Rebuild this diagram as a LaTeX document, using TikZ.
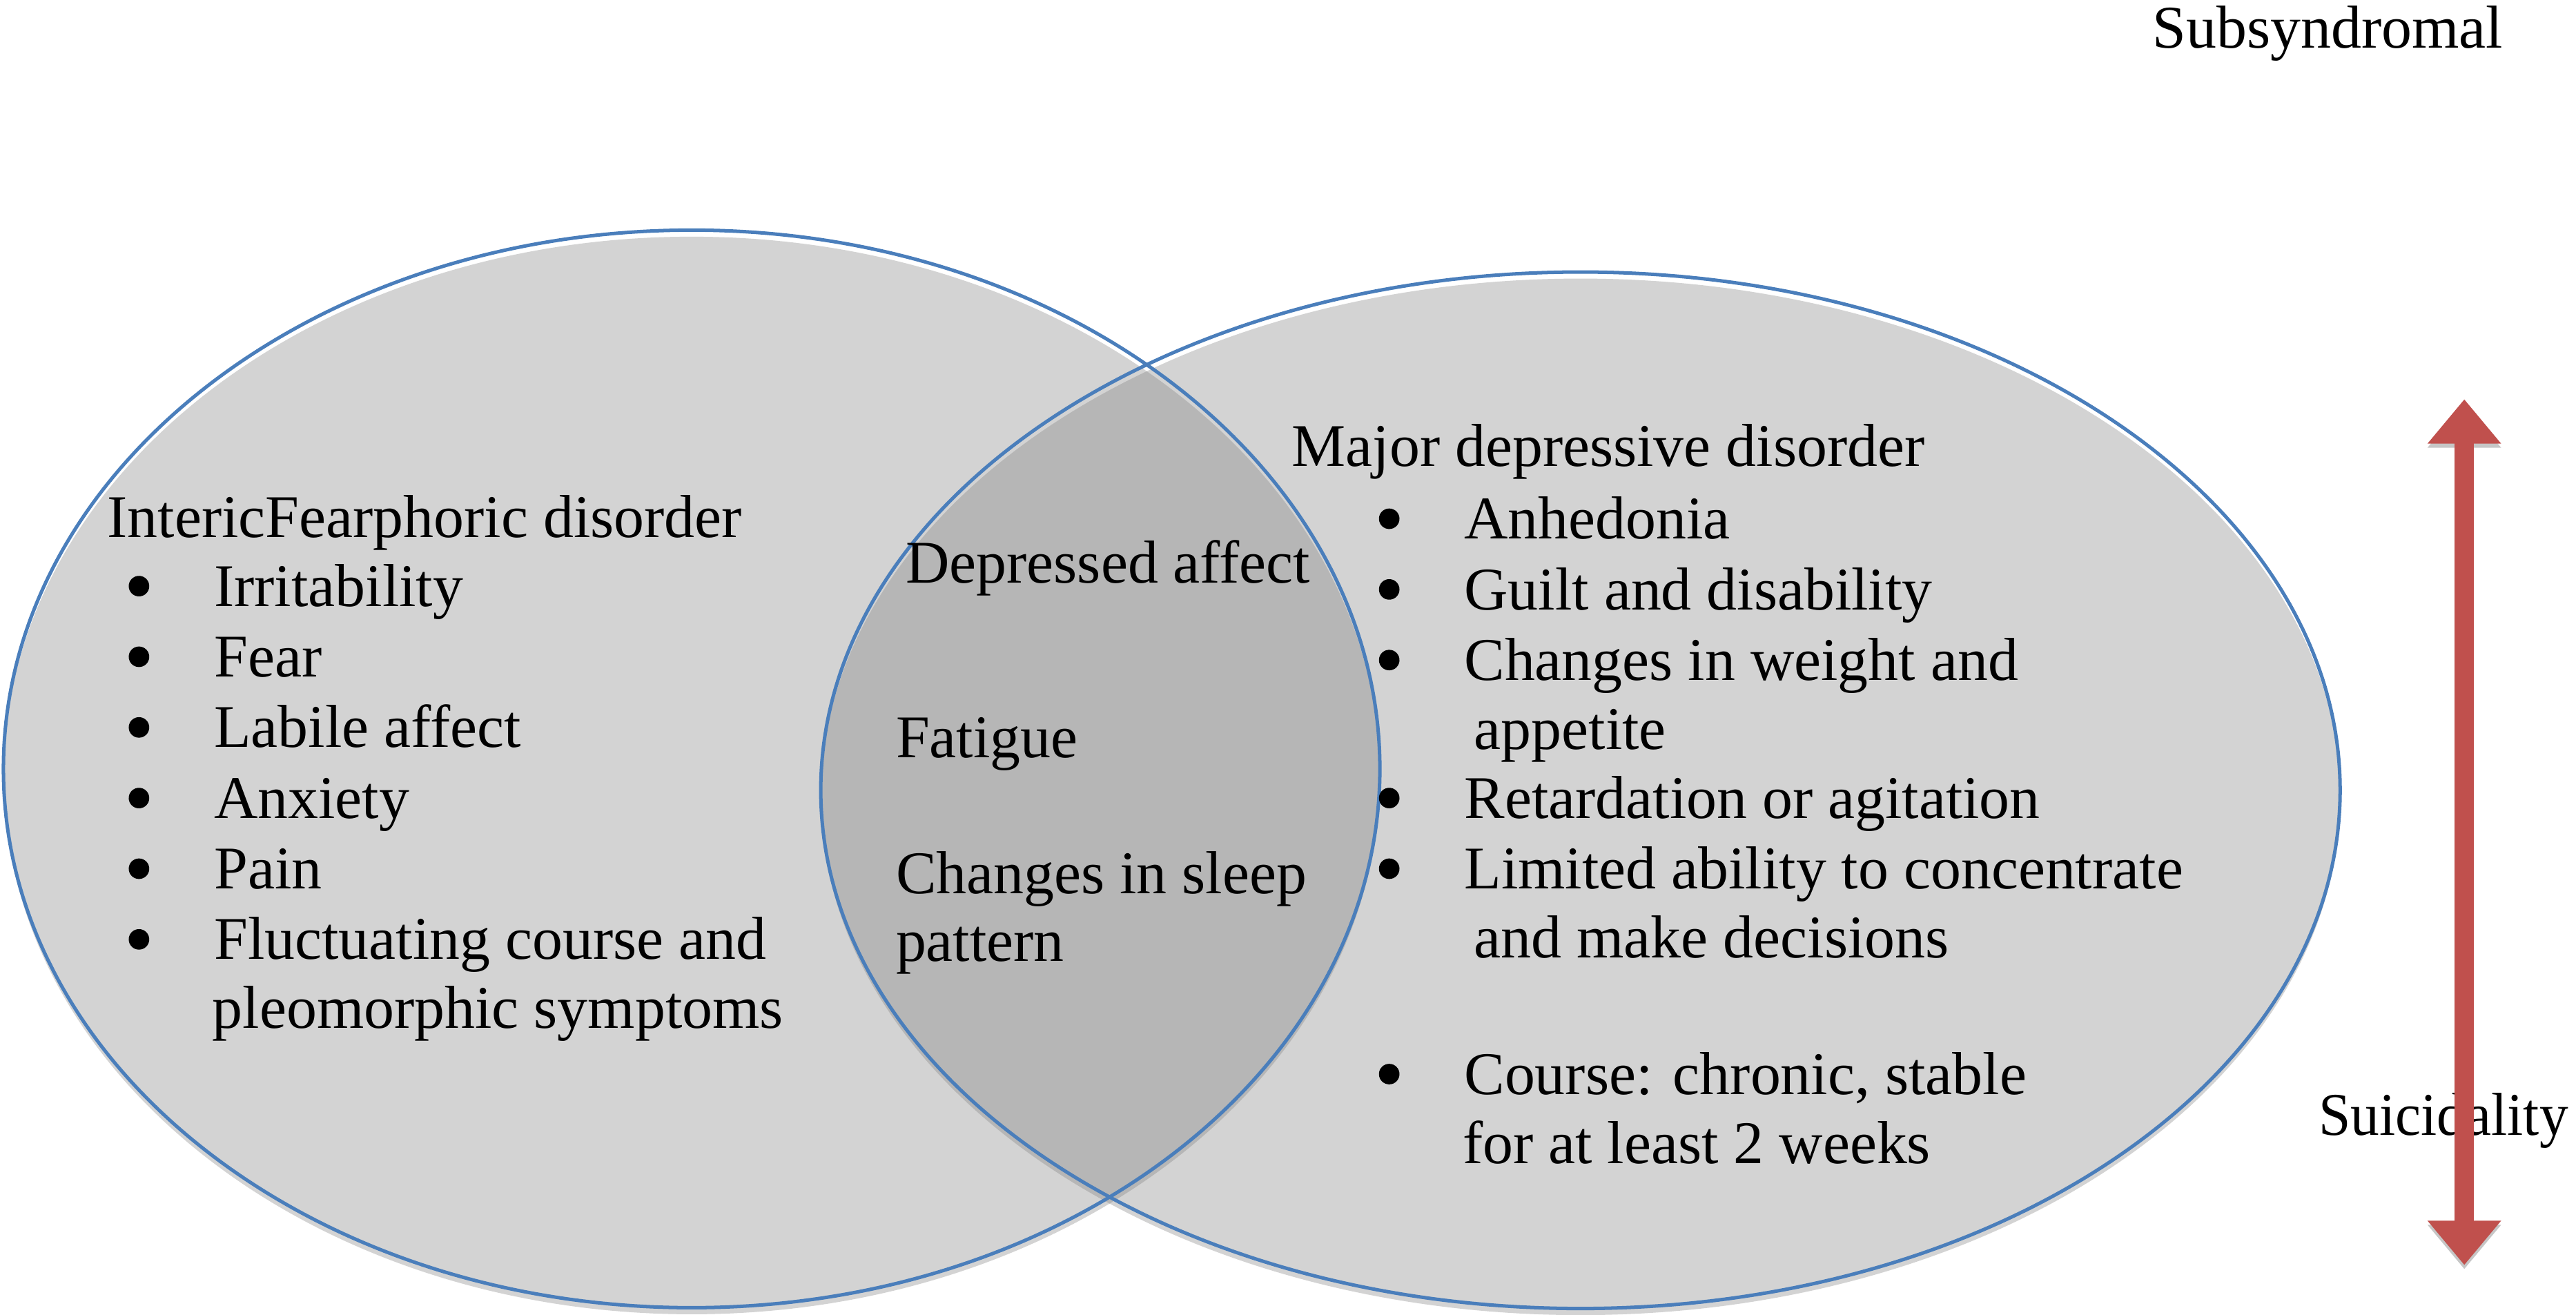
\documentclass[tikz,border=0pt]{standalone}
\usepackage{fontspec}
\setmainfont{Liberation Serif}
\usetikzlibrary{arrows.meta}
\definecolor{fillgray}{HTML}{D3D3D3}
\definecolor{lensgray}{HTML}{B6B6B6}
\definecolor{rimblue}{HTML}{4A7EBB}
\definecolor{arrowred}{HTML}{C0504D}
\newcommand{\bul}{\makebox[1.04cm][l]{\tikz[baseline=-0.245cm]\fill[black] (0.125cm,0) circle (0.125cm);}}
\tikzset{
  txt/.style={anchor=base west, inner sep=0pt, font=\fontsize{21}{24}\selectfont},
  rim/.style={draw=rimblue, line width=1.2pt},
  redarrow/.style={arrowred, line width=0.24cm,
    {Triangle[width=0.86cm,length=0.54cm]}-{Triangle[width=0.86cm,length=0.54cm]}}
}
\begin{document}
\begin{tikzpicture}[x=0.02cm,y=-0.02cm]
\useasboundingbox (0,0) rectangle (1568,800);
\fill[fillgray] (421,472) ellipse [x radius=8.38cm, y radius=6.56cm]; % left fill
\fill[fillgray] (962,485) ellipse [x radius=9.25cm, y radius=6.31cm]; % right fill
\begin{scope}
\clip (421,472) ellipse [x radius=8.38cm, y radius=6.56cm];
\fill[lensgray] (962,485) ellipse [x radius=9.25cm, y radius=6.31cm]; % overlap
\end{scope}
\draw[rim] (421,468) ellipse [x radius=8.38cm, y radius=6.56cm];
\draw[rim] (962,481) ellipse [x radius=9.25cm, y radius=6.31cm];

\node[txt] (ifd) at (65,327) {IntericFearphoric disorder};
\node[txt] (ifd1) at (78,369) {\bul Irritability};
\node[txt] (ifd2) at (78,412) {\bul Fear};
\node[txt] (ifd3) at (78,455) {\bul Labile affect};
\node[txt] (ifd4) at (78,498) {\bul Anxiety};
\node[txt] (ifd5) at (78,541) {\bul Pain};
\node[txt] (ifd6) at (78,584) {\bul Fluctuating course and};
\node[txt] (ifd6b) at (129,626) {pleomorphic symptoms};

\node[txt] (both1) at (551,355) {Depressed affect};
\node[txt] (both2) at (545,461) {Fatigue};
\node[txt] (both3) at (545,544) {Changes in sleep};
\node[txt] (both3b) at (545,585) {pattern};

\node[txt] (mdd) at (786,284) {Major depressive disorder};
\node[txt] (mdd1) at (839,328) {\bul Anhedonia};
\node[txt] (mdd2) at (839,371) {\bul Guilt and disability};
\node[txt] (mdd3) at (839,414) {\bul Changes in weight and};
\node[txt] (mdd3b) at (897,456) {appetite};
\node[txt] (mdd4) at (839,498) {\bul Retardation or agitation};
\node[txt] (mdd5) at (839,541) {\bul Limited ability to concentrate};
\node[txt] (mdd5b) at (897,583) {and make decisions};
\node[txt] (mdd6) at (839,666) {\bul Course: chronic, stable};
\node[txt] (mdd6b) at (890,708) {for at least 2 weeks};

\node[txt] (subsyn) at (1310,29) {Subsyndromal};
\node[txt] (suicid) at (1411,691) {\scalebox{0.95}[1]{Suicidality}};

\coordinate (sutop) at (1500,243);
\coordinate (subot) at (1500,770);
\draw[redarrow, gray!45, transform canvas={yshift=-0.05cm}] (subot) -- (sutop); % shadow
\draw[redarrow] (subot) -- (sutop);
\end{tikzpicture}
\end{document}
